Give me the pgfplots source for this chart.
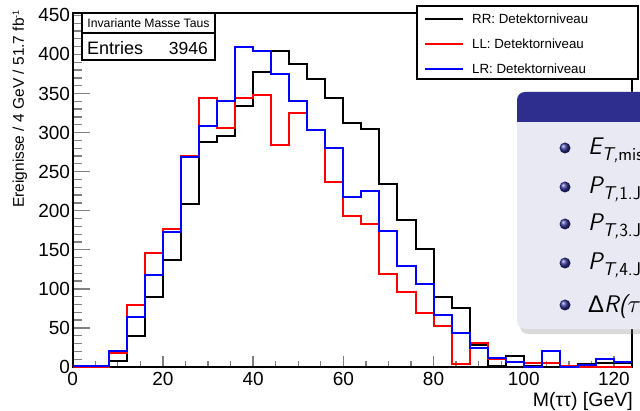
\documentclass[border=0pt]{standalone}
\usepackage{fontspec}
\setmainfont{Liberation Sans}
\usepackage{pgfplots}
\usepackage{pgfplotstable}
\pgfplotsset{compat=1.18}
\usetikzlibrary{shadows}
\definecolor{rootred}{HTML}{FF0000}
\definecolor{rootblue}{HTML}{0000FF}
\definecolor{blkhead}{HTML}{2E2E8E}
\definecolor{blkbody}{HTML}{E9E9F3}

% M(tautau), 4 GeV bins (left edges); last row closes the final bin
\pgfplotstableread{
x   rr  ll  lr
0   0   0   1
4   0   0   1
8   8   18  20
12  40  79  64
16  90  146 118
20  137 177 173
24  208 270 269
28  288 344 308
32  296 306 340
36  334 344 409
40  378 348 404
44  405 284 375
48  388 325 341
52  369 303 303
56  344 237 280
60  312 193 217
64  305 183 225
68  234 119 174
72  188 96  129
76  151 69  106
80  90  52  67
84  75  4   43
88  28  31  24
92  1   10  11
96  14  7   6
100 1   5   0
104 0   5   21
108 0   1   0
112 4   0   3
116 5   0   10
120 5   0   7
124 5   0   7
}\histdata

\newcommand\sub[1]{\raisebox{-5.5pt}{\fontsize{18.5}{19}\selectfont #1}}

\begin{document}
\begin{tikzpicture}[x=1pt,y=1pt]
\path[use as bounding box] (0,0) rectangle (640,410);
\clip (0,0) rectangle (640,410);
\begin{axis}[
  at={(72.7pt,43pt)}, anchor=south west,
  scale only axis, width=559.3pt, height=354pt,
  xmin=0, xmax=124, ymin=0, ymax=453,
  xtick={0,20,...,120}, ytick={0,50,...,450},
  minor x tick num=3, minor y tick num=4,
  tick pos=left, tick align=inside,
  xtick style={line width=1.3pt, /pgfplots/major tick length=10.7pt, /pgfplots/minor tick length=5.7pt},
  ytick style={line width=1.3pt, /pgfplots/major tick length=17pt, /pgfplots/minor tick length=9pt},
  axis line style={line width=1.6pt},
  tick label style={font=\fontsize{19}{19}\selectfont},
  /pgf/number format/assume math mode=true,
  yticklabel style={inner sep=0pt, xshift=-2.5pt},
  xticklabel style={inner sep=0pt, yshift=-5pt},
]
\addplot[const plot, black, line width=2pt] table[x=x, y=rr] {\histdata};
\addplot[const plot, rootred, line width=2pt] table[x=x, y=ll] {\histdata};
\addplot[const plot, rootblue, line width=2pt] table[x=x, y=lr] {\histdata};
\end{axis}

% axis titles
\node[rotate=90, anchor=base east, inner sep=0pt, font=\fontsize{15.5}{16}\selectfont]
  at (24,400) {Ereignisse / 4 GeV / 51.7 fb\raisebox{5pt}{\fontsize{9}{9}\selectfont -1}};
\node[anchor=base east, inner sep=0pt, font=\fontsize{19.5}{20}\selectfont]
  at (633,4) {M(ττ) [GeV]};

% stats box
\draw[line width=1.3pt, fill=white] (82,350) rectangle (215,397);
\draw[line width=1.3pt] (82,377) -- (215,377);
\node[anchor=base, inner sep=0pt, font=\fontsize{12.2}{13}\selectfont] at (148.5,382) {Invariante Masse Taus};
\node[anchor=base west, inner sep=0pt, font=\fontsize{18}{18}\selectfont] at (87,355) {Entries};
\node[anchor=base east, inner sep=0pt, font=\fontsize{17.5}{18}\selectfont] at (208,355) {3946};

% legend
\draw[line width=1.3pt, fill=white] (417,331) rectangle (638,404);
\draw[black, line width=2pt] (425,391) -- (463,391);
\draw[rootred, line width=2pt] (425,366) -- (463,366);
\draw[rootblue, line width=2pt] (425,341) -- (463,341);
\begin{scope}[every node/.style={anchor=base west, inner sep=0pt, font=\fontsize{13.3}{14}\selectfont}]
\node at (472,386.3) {RR: Detektorniveau};
\node at (472,361.3) {LL: Detektorniveau};
\node at (472,336.3) {LR: Detektorniveau};
\end{scope}

% beamer block laid over the figure
\fill[blkbody, rounded corners=8pt, drop shadow={opacity=0.3, shadow xshift=3pt, shadow yshift=-5pt}] (517,81) rectangle (700,318);
\fill[blkhead, rounded corners=8pt] (517,288) rectangle (700,318);
\fill[blkhead] (517,288) rectangle (700,300);
\foreach \yy in {262,223,186,147,105} {
  \shade[ball color=blkhead] (565,\yy) circle (5.5pt);
}
\begin{scope}[every node/.style={anchor=base west, inner sep=0pt, font=\fontsize{24}{26}\selectfont\sffamily\itshape}]
\node at (588,255) {E\sub{T,{\upshape miss}}};
\node at (588,216) {P\sub{T,{\upshape 1.Jet}}};
\node at (588,179) {P\sub{T,{\upshape 3.Jet}}};
\node at (588,140) {P\sub{T,{\upshape 4.Jet}}};
\node at (588,98) {{\upshape\rmfamily Δ}R($\tau\tau$)};
\end{scope}
\end{tikzpicture}
\end{document}
